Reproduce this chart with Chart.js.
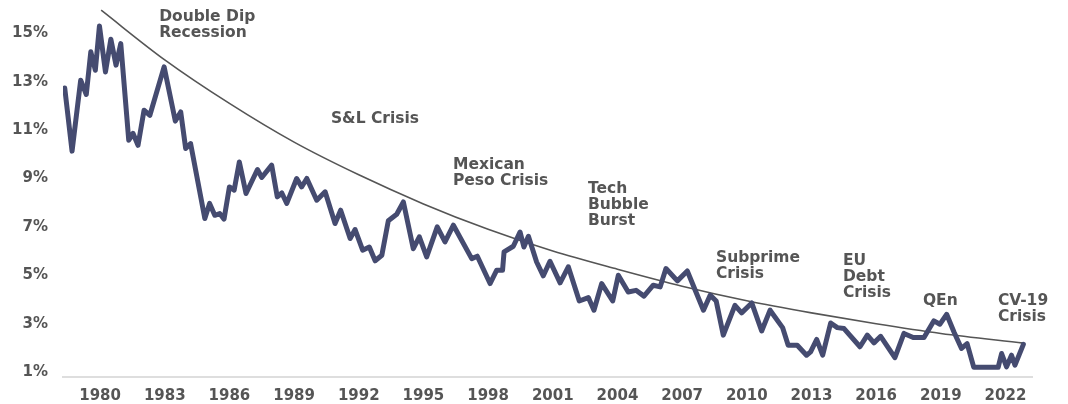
<!DOCTYPE html>
<html>
<head>
<meta charset="utf-8">
<script src="https://cdn.jsdelivr.net/npm/chart.js@4.4.1/dist/chart.umd.min.js"></script>
<style>
  html, body { margin: 0; padding: 0; background: #fff; }
  #wrap { width: 1068px; height: 404px; position: relative; }
</style>
</head>
<body>
<div id="wrap"><canvas id="yieldChart"></canvas></div>
<script>
// ---------- DATA ----------
const years = [
  1978.36, 1978.70, 1979.10, 1979.36, 1979.57, 1979.78, 1979.97, 1980.25, 1980.50, 1980.74,
  1980.96, 1981.33, 1981.53, 1981.76, 1982.04, 1982.31, 1982.97, 1983.49, 1983.74, 1983.97,
  1984.20, 1984.86, 1985.08, 1985.32, 1985.55, 1985.75, 1986.00, 1986.22, 1986.46, 1986.77,
  1987.30, 1987.50, 1987.96, 1988.22, 1988.43, 1988.66, 1989.12, 1989.35, 1989.59, 1990.05,
  1990.44, 1990.90, 1991.16, 1991.60, 1991.83, 1992.18, 1992.49, 1992.76, 1993.07, 1993.37,
  1993.76, 1994.07, 1994.53, 1994.81, 1995.15, 1995.64, 1996.00, 1996.39, 1997.24, 1997.50,
  1998.09, 1998.40, 1998.67, 1998.74, 1999.17, 1999.48, 1999.66, 1999.87, 2000.25, 2000.56,
  2000.87, 2001.34, 2001.72, 2002.23, 2002.65, 2002.91, 2003.27, 2003.78, 2004.04, 2004.50,
  2004.86, 2005.23, 2005.66, 2005.98, 2006.25, 2006.78, 2007.24, 2007.99, 2008.30, 2008.58,
  2008.91, 2009.45, 2009.76, 2010.23, 2010.69, 2011.08, 2011.66, 2011.92, 2012.34, 2012.77,
  2012.96, 2013.24, 2013.52, 2013.89, 2014.20, 2014.51, 2015.25, 2015.59, 2015.90, 2016.21,
  2016.87, 2017.29, 2017.72, 2018.22, 2018.68, 2018.96, 2019.27, 2019.61, 2019.96, 2020.22,
  2020.53, 2021.66, 2021.82, 2022.05, 2022.28, 2022.44, 2022.83
];
const yields = [
  12.74, 10.13, 13.06, 12.47, 14.23, 13.47, 15.30, 13.40, 14.75, 13.68,
  14.57, 10.58, 10.86, 10.37, 11.82, 11.61, 13.61, 11.37, 11.75, 10.24,
  10.44, 7.35, 7.97, 7.48, 7.55, 7.32, 8.65, 8.52, 9.68, 8.38,
  9.37, 9.04, 9.55, 8.24, 8.40, 7.97, 9.00, 8.65, 9.00, 8.10,
  8.45, 7.14, 7.69, 6.52, 6.89, 6.04, 6.17, 5.60, 5.83, 7.25,
  7.52, 8.03, 6.10, 6.59, 5.76, 7.00, 6.38, 7.07, 5.69, 5.79,
  4.66, 5.21, 5.21, 5.97, 6.20, 6.79, 6.17, 6.61, 5.55, 4.98,
  5.58, 4.69, 5.35, 3.94, 4.08, 3.56, 4.66, 3.94, 5.00, 4.31,
  4.38, 4.14, 4.59, 4.52, 5.28, 4.77, 5.18, 3.56, 4.18, 3.94,
  2.53, 3.76, 3.45, 3.86, 2.70, 3.56, 2.84, 2.11, 2.11, 1.70,
  1.84, 2.35, 1.70, 3.03, 2.84, 2.80, 2.05, 2.53, 2.21, 2.48,
  1.60, 2.60, 2.43, 2.43, 3.12, 2.98, 3.39, 2.66, 1.98, 2.18,
  1.20, 1.20, 1.77, 1.22, 1.70, 1.29, 2.15
];

// gray trend curve, read at the tick years
const trendYears = [1980.05, 1983, 1986, 1989, 1992, 1995, 1998, 2001, 2004, 2007, 2010, 2013, 2016, 2019, 2022.83];
const trendValues = [15.95, 13.9, 12.1, 10.5, 9.15, 7.95, 6.9, 6.0, 5.25, 4.55, 3.95, 3.45, 3.0, 2.6, 2.2];

const yTicks = [1, 3, 5, 7, 9, 11, 13, 15];
const xTicks = [1980, 1983, 1986, 1989, 1992, 1995, 1998, 2001, 2004, 2007, 2010, 2013, 2016, 2019, 2022];

const noteLabels = [
  ["Double Dip", "Recession"],
  ["S&L Crisis"],
  ["Mexican", "Peso Crisis"],
  ["Tech", "Bubble", "Burst"],
  ["Subprime", "Crisis"],
  ["EU", "Debt", "Crisis"],
  ["QEn"],
  ["CV-19", "Crisis"]
];
const noteYears = [1982.74, 1990.71, 1996.37, 2002.63, 2008.57, 2014.46, 2018.17, 2021.65];
const noteValues = [15.68, 11.47, 9.57, 8.58, 5.73, 5.61, 3.95, 3.95];

// ---------- STYLE ----------
const TEXT = "#555555";
const FONT = "'DejaVu Sans', sans-serif";

// ---------- ANNOTATIONS ----------
const notesPlugin = {
  id: "notes",
  afterDatasetsDraw(chart) {
    const { ctx, scales } = chart;
    ctx.save();
    ctx.fillStyle = TEXT;
    ctx.font = "bold 15.5px " + FONT;
    ctx.textAlign = "left";
    ctx.textBaseline = "middle";
    noteLabels.forEach((lines, i) => {
      const x = scales.x.getPixelForValue(noteYears[i]);
      const y = scales.y.getPixelForValue(noteValues[i]);
      lines.forEach((t, j) => ctx.fillText(t, x, y + j * 16));
    });
    ctx.restore();
  }
};

// ---------- CHART ----------
new Chart(document.getElementById("yieldChart"), {
  type: "line",
  data: {
    datasets: [
      {
        label: "Trend",
        data: trendYears.map((x, i) => ({ x: x, y: trendValues[i] })),
        borderColor: "#555555",
        borderWidth: 1.6,
        pointRadius: 0,
        cubicInterpolationMode: "monotone",
        order: 2
      },
      {
        label: "Yield",
        data: years.map((x, i) => ({ x: x, y: yields[i] })),
        borderColor: "#454b70",
        borderWidth: 5,
        borderJoinStyle: "round",
        borderCapStyle: "round",
        pointRadius: 0,
        tension: 0,
        order: 1
      }
    ]
  },
  options: {
    responsive: true,
    maintainAspectRatio: false,
    animation: false,
    layout: { padding: { top: 9, right: 36, left: 0, bottom: 0 } },
    plugins: {
      legend: { display: false },
      tooltip: { enabled: false }
    },
    scales: {
      x: {
        type: "linear",
        min: 1978.28,
        max: 2023.23,
        afterBuildTicks: (s) => { s.ticks = xTicks.map(v => ({ value: v })); },
        afterFit: (s) => { s.height = 27; s.paddingLeft = 0; s.paddingRight = 0; },
        grid: { display: false },
        border: { display: true, color: "#dedede", width: 2 },
        ticks: {
          color: TEXT,
          padding: 2,
          maxRotation: 0,
          font: { family: FONT, size: 15, weight: "bold" },
          callback: (v) => String(v)
        }
      },
      y: {
        min: 0.8,
        max: 16,
        afterBuildTicks: (s) => { s.ticks = yTicks.map(v => ({ value: v })); },
        afterFit: (s) => { s.width = 63; s.paddingTop = 0; s.paddingBottom = 0; },
        grid: { display: false, drawTicks: false },
        border: { display: false },
        ticks: {
          color: TEXT,
          padding: 15,
          font: { family: FONT, size: 15, weight: "bold" },
          callback: (v) => v + "%"
        }
      }
    }
  },
  plugins: [notesPlugin]
});
</script>
</body>
</html>
